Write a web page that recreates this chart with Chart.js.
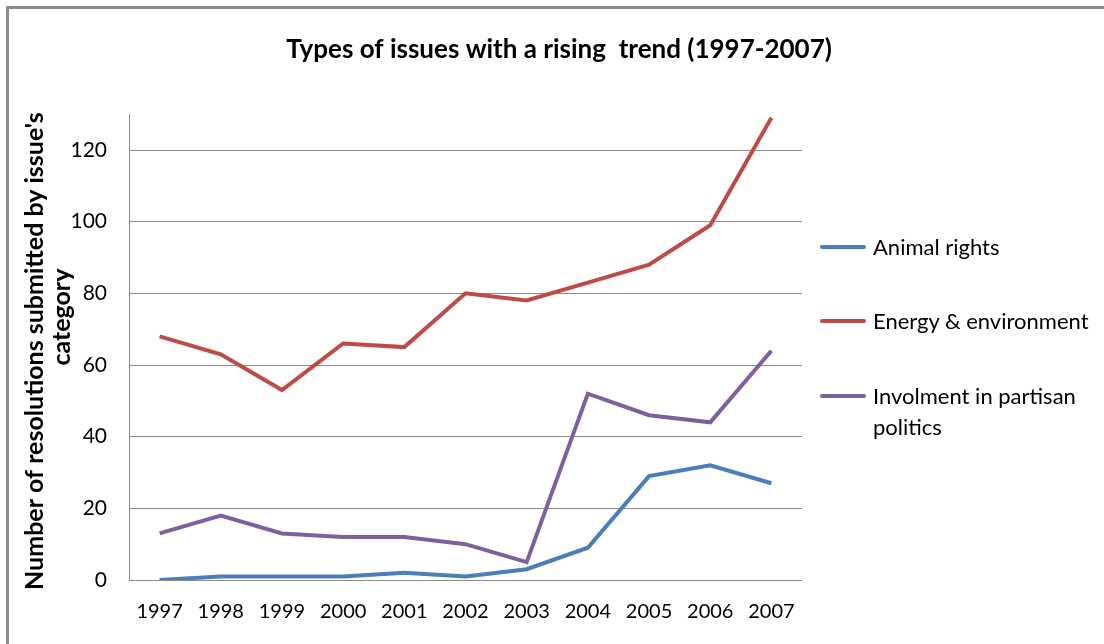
<!DOCTYPE html>
<html lang="en">
<head>
  <meta charset="UTF-8">
  <title>Types of issues with a rising trend (1997-2007)</title>
  <script src="https://cdn.jsdelivr.net/npm/chart.js"></script>
  <style>
    html, body { margin: 0; padding: 0; background: #fff; overflow: hidden; }
    #wrap { position: relative; width: 1104px; height: 644px; overflow: hidden; }
    #frame { position: absolute; left: 6px; top: 6px; width: 1400px; height: 900px;
             border-top: 3px solid #8c8c8c; border-left: 3px solid #8c8c8c; box-sizing: border-box; }
    #issueChart { position: absolute; left: 0; top: 0; }
    .legend { position: absolute; left: 820px; top: 0; font-family: Lato, sans-serif; font-size: 22px; color: #000; }
    .legend .item { position: absolute; left: 0; white-space: nowrap; }
    .legend .swatch { position: absolute; left: 0; width: 46px; height: 4px; border-radius: 2px; }
    .legend .label { position: absolute; left: 53px; line-height: 31px; }
  </style>
</head>
<body>
<div id="wrap">
  <div id="frame"></div>
  <canvas id="issueChart" width="1104" height="644"></canvas>
  <div class="legend" id="legend"></div>
</div>

<script>
  const years = ['1997', '1998', '1999', '2000', '2001', '2002', '2003', '2004', '2005', '2006', '2007'];
  const animalRights = [0, 1, 1, 1, 2, 1, 3, 9, 29, 32, 27];
  const energyEnvironment = [68, 63, 53, 66, 65, 80, 78, 83, 88, 99, 129];
  const partisanPolitics = [13, 18, 13, 12, 12, 10, 5, 52, 46, 44, 64];
  const seriesNames = ['Animal rights', 'Energy & environment', ['Involment in partisan', 'politics']];
  const seriesColors = ['#4a7ebb', '#be4b48', '#7d60a0'];
  const yTicks = [0, 20, 40, 60, 80, 100, 120];
  const yTitle = ['Number of resolutions submitted by issue\'s', 'category'];

  const font = 'Lato, sans-serif';

  const makeSet = (i, data) => ({
    label: [].concat(seriesNames[i]).join(' '),
    data: data,
    borderColor: seriesColors[i],
    backgroundColor: seriesColors[i],
    borderWidth: 4,
    pointRadius: 0,
    tension: 0,
    fill: false
  });

  // y axis title: two rotated lines, the short one sits a bit higher like in Excel
  const yTitlePlugin = {
    id: 'yTitle',
    afterDraw(c) {
      const ctx = c.ctx;
      const area = c.chartArea;
      const mid = (area.top + area.bottom) / 2;
      const spots = [{ x: 35, y: mid + 4 }, { x: 62, y: mid - 30 }];
      ctx.save();
      ctx.fillStyle = '#000';
      ctx.font = 'bold 25px ' + font;
      ctx.textAlign = 'center';
      ctx.textBaseline = 'middle';
      yTitle.forEach((line, i) => {
        ctx.save();
        ctx.translate(spots[i].x, spots[i].y);
        ctx.rotate(-Math.PI / 2);
        ctx.fillText(line, 0, 0);
        ctx.restore();
      });
      ctx.restore();
    }
  };

  const chart = new Chart(document.getElementById('issueChart').getContext('2d'), {
    type: 'line',
    data: {
      labels: years,
      datasets: [
        makeSet(0, animalRights),
        makeSet(1, energyEnvironment),
        makeSet(2, partisanPolitics)
      ]
    },
    options: {
      responsive: false,
      animation: false,
      layout: { padding: { left: 14, right: 0, top: 0, bottom: 0 } },
      plugins: {
        legend: { display: false },
        tooltip: { enabled: false },
        title: {
          display: true,
          text: 'Types of issues with a rising  trend (1997-2007)',
          color: '#000',
          font: { family: font, size: 26, weight: 'bold', lineHeight: 1.2 },
          padding: { top: 34, bottom: 49 }
        }
      },
      scales: {
        x: {
          offset: true,
          grid: { display: false, drawTicks: false },
          border: { display: false },
          ticks: { color: '#000', font: { family: font, size: 20 }, padding: 20, maxRotation: 0 }
        },
        y: {
          min: 0,
          max: 130,
          afterBuildTicks: axis => { axis.ticks = yTicks.map(v => ({ value: v })); },
          afterFit: axis => { axis.width = 115; },
          grid: { color: '#8c8c8c', lineWidth: 1, drawTicks: false },
          border: { display: true, color: '#8c8c8c', width: 1 },
          ticks: { color: '#000', font: { family: font, size: 21 }, padding: 22 }
        },
        // empty axis that only keeps room for the legend on the right
        side: {
          type: 'linear',
          position: 'right',
          display: true,
          afterFit: axis => { axis.width = 302; },
          grid: { display: false, drawTicks: false },
          border: { display: false },
          ticks: { display: false }
        }
      }
    },
    plugins: [yTitlePlugin]
  });

  // legend beside the plot
  const legendTops = [247, 321, 396];
  const legend = document.getElementById('legend');
  seriesNames.forEach((name, i) => {
    const item = document.createElement('div');
    item.className = 'item';
    item.style.top = legendTops[i] + 'px';
    const sw = document.createElement('div');
    sw.className = 'swatch';
    sw.style.background = seriesColors[i];
    sw.style.top = '-2px';
    const lab = document.createElement('div');
    lab.className = 'label';
    lab.style.top = '-16px';
    lab.innerHTML = [].concat(name).map(s => s.replace('&', '&amp;')).join('<br>');
    item.appendChild(sw);
    item.appendChild(lab);
    legend.appendChild(item);
  });
</script>
</body>
</html>
